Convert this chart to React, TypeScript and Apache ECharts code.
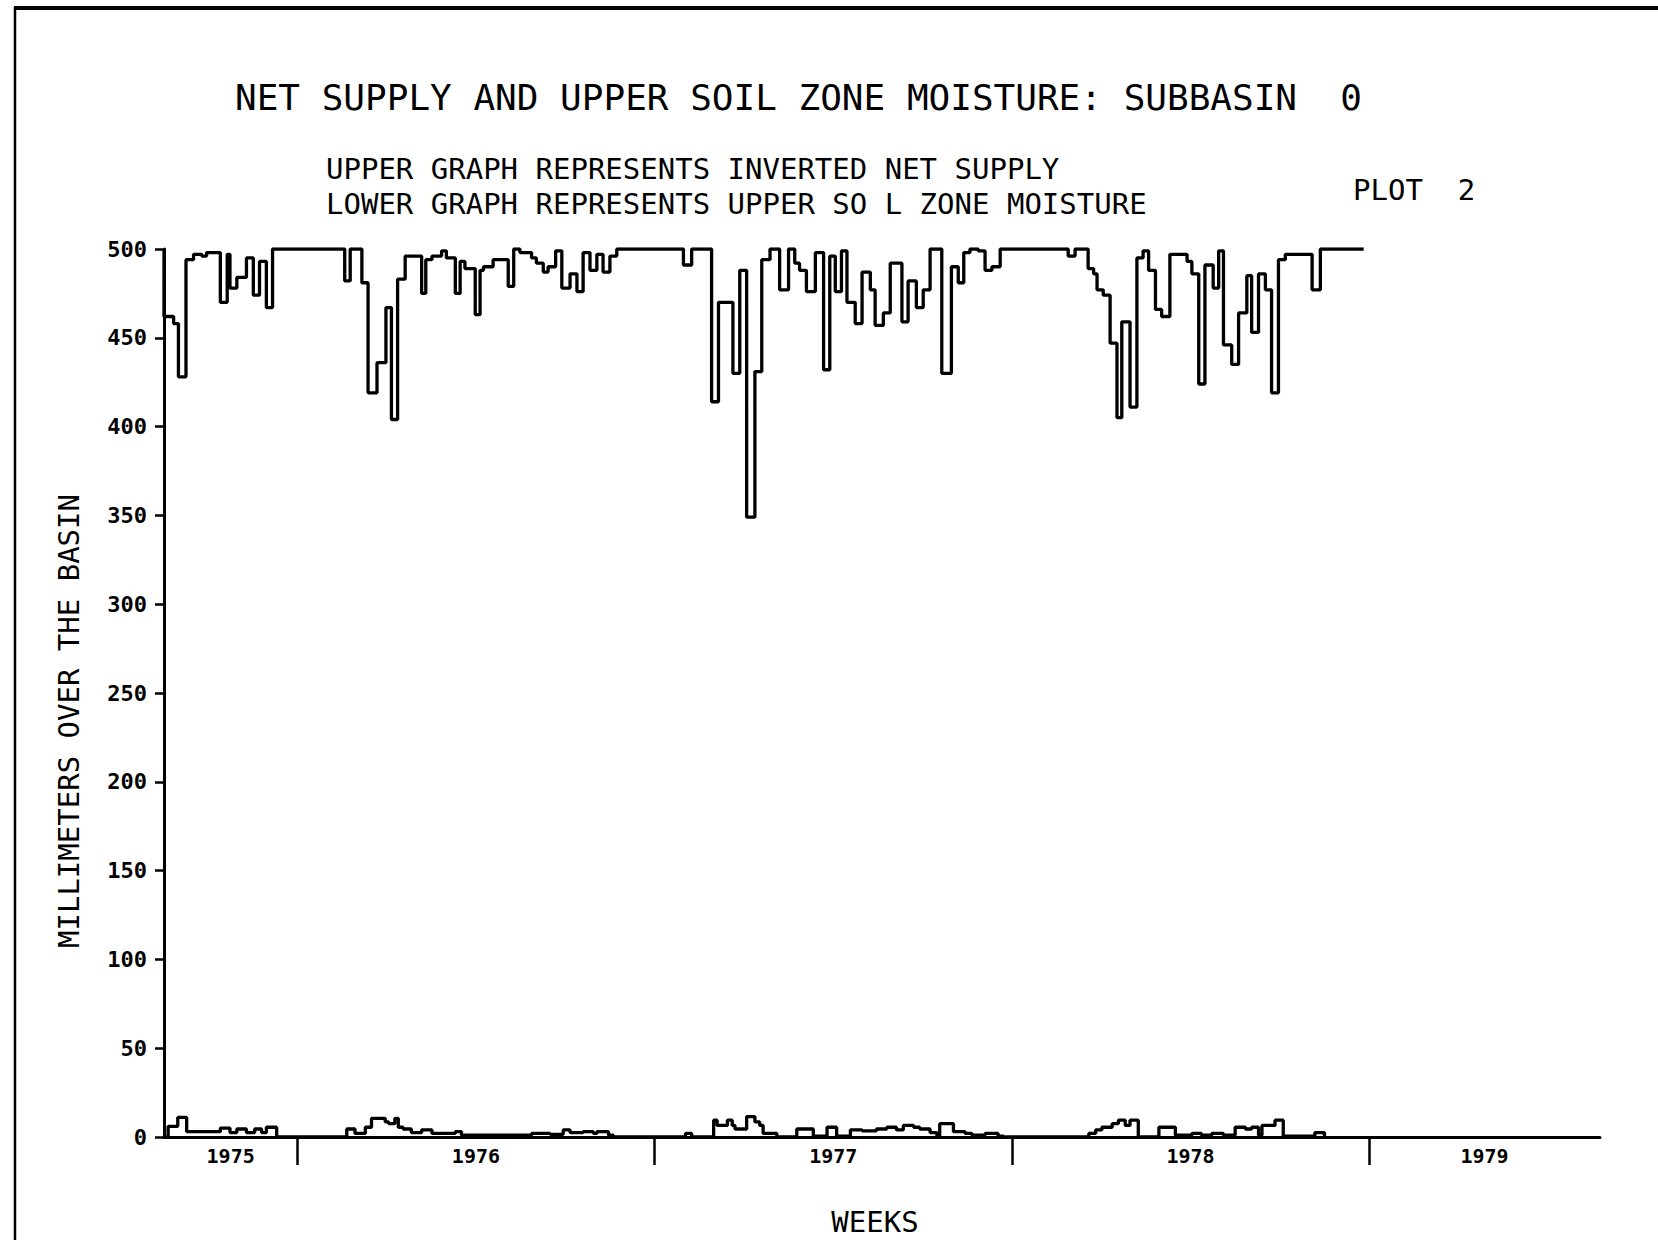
import React, { useEffect, useRef } from "react";
import * as echarts from "echarts";

// ---- axis / tick data ----
const yMin = 0;
const yMax = 500;
const yInterval = 50;
const axisEndWeek = 209; // weeks shown on the x axis
const yearNames = ["1975", "1976", "1977", "1978", "1979"];
const yearStarts = [19.4, 71.4, 123.4, 175.4]; // week index where each new year begins

// ---- upper graph: inverted net supply (step change points) ----
const upperWeek = [
  0, 0, 1.4, 2.1, 3.2, 4.3, 5.5, 6.2, 8.2, 9.2, 9.6, 10.6, 12.0, 13.0, 13.9, 14.9, 15.8,
  26.3, 27.1, 28.8, 29.7, 31.0, 32.3, 33.1, 34.0, 35.1, 37.5, 38.1, 39.0, 40.4, 41.1,
  42.4, 43.1, 43.8, 45.3, 46.0, 46.5, 47.9, 50.1, 50.9, 51.8, 53.5, 54.2, 55.2, 55.9,
  57.0, 57.9, 59.1, 60.1, 61.0, 62.0, 63.0, 63.9, 64.9, 65.9, 75.6, 76.8, 79.7, 80.7,
  82.8, 83.8, 84.8, 86.0, 87.0, 88.2, 89.6, 90.9, 91.8, 92.5, 93.5, 94.8, 96.0, 96.9,
  97.7, 98.6, 99.4, 100.6, 101.6, 102.8, 103.5, 104.7, 105.7, 107.4, 108.3, 109.5,
  110.5, 111.5, 113.2, 114.6, 115.6, 116.4, 117.3, 118.5, 119.5, 120.5, 121.7, 131.6,
  132.6, 134.5, 135.3, 135.8, 136.7, 137.7, 138.7, 139.4, 140.6, 141.6, 142.5, 143.3,
  144.3, 145.2, 146.4, 148.9, 149.6, 150.6, 151.5, 152.7, 153.5, 154.2, 155.4, 156.4,
  157.6, 158.3, 159.3, 160.3, 161.2, 162.2, 163.2, 167.1, 168.3, 174.6,
];
const upperValue = [
  500, 462, 458, 428, 494, 497, 496, 498, 470, 497, 478, 484, 495, 474, 493, 467, 500,
  482, 500, 481, 419, 436, 467, 404, 483, 496, 475, 494, 496, 499, 495,
  475, 493, 489, 463, 488, 490, 494, 479, 500, 498, 495, 492, 487, 490,
  499, 478, 486, 476, 498, 488, 497, 487, 496, 500, 491, 500, 414, 470,
  430, 488, 349, 431, 494, 500, 477, 500, 492, 488, 476, 498, 432, 496,
  476, 499, 470, 458, 487, 477, 457, 464, 492, 459, 482, 467,
  477, 500, 430, 490, 481, 498, 500, 499, 488, 490, 500, 496,
  500, 489, 486, 477, 474, 447, 405, 459, 411, 495, 499, 488,
  466, 462, 497, 493, 486, 424, 491, 478, 499, 446, 435, 464,
  485, 453, 486, 477, 419, 494, 497, 477, 500, 500,
];

// ---- lower graph: upper soil zone moisture (step change points) ----
const lowerWeek = [
  0, 0.6, 2.0, 3.3, 8.2, 9.6, 10.6, 12.0, 13.2, 14.2, 14.9, 16.4, 26.6, 27.8, 29.3, 30.2,
  32.2, 32.7, 33.6, 34.1, 34.8, 36.0, 37.5, 39.0, 42.4, 43.3, 53.5, 56.2, 58.1, 59.1,
  61.0, 62.5, 63.0, 64.7, 65.4, 75.9, 76.8, 80.0, 80.5, 82.0, 82.7, 83.1, 84.8, 86.0,
  86.7, 87.2, 89.2, 92.1, 94.5, 96.5, 97.9, 99.9, 101.6, 103.7, 105.2, 106.6, 107.6,
  109.1, 110.0, 111.5, 112.5, 112.9, 114.9, 116.6, 117.6, 119.5, 121.4, 122.2, 134.6,
  135.6, 136.5, 138.0, 138.9, 139.9, 140.6, 141.8, 144.8, 147.2, 149.6, 151.0, 152.5,
  154.2, 155.9, 157.4, 158.3, 159.3, 159.8, 161.7, 162.9, 167.5, 168.9,
];
const lowerValue = [
  0, 6, 11, 3, 5, 2.5, 4.5, 2.5, 4.5, 2.5, 5.5, 0, 4.5, 2, 5.5, 10.5,
  8.5, 7.5, 10.5, 5.5, 4.5, 2.5, 4, 2, 3, 1, 2, 1.5, 4, 2.5,
  3, 2, 3, 1, 0, 2, 0, 9.5, 6.5, 9.5, 6.5, 4.5, 11.5, 8.5,
  6.5, 2, 0, 4.5, 0.5, 5.5, 0.5, 4, 3.5, 4.5, 5.5, 4, 6.5,
  5.5, 4.5, 2.5, 0.5, 7.5, 3, 2, 1, 2, 0.5, 0, 2,
  4, 5.5, 7.5, 9.5, 6.5, 9.5, 0, 5.5, 1, 2, 1, 2,
  1, 5.5, 4.5, 5.5, 1, 6.5, 9.5, 0.5, 2.5, 0,
];

const MONO = "'DejaVu Sans Mono', 'Liberation Mono', monospace";

export default function App() {
  const ref = useRef<HTMLDivElement>(null);

  useEffect(() => {
    document.body.style.margin = "0";
    if (!ref.current) return;
    const chart = echarts.init(ref.current, undefined, { renderer: "svg" });

    const bounds = [0, ...yearStarts, axisEndWeek];
    const labelAt = yearNames.map((_, i) => (bounds[i] + bounds[i + 1]) / 2);

    const upperData = upperWeek.map((w, i) => [w, upperValue[i]]);
    const lowerData = lowerWeek.map((w, i) => [w, lowerValue[i]]);

    chart.setOption({
      animation: false,
      backgroundColor: "#ffffff",
      grid: { left: 164, right: 58, top: 249, bottom: 103, containLabel: false },
      xAxis: {
        type: "value",
        min: 0,
        max: axisEndWeek,
        splitLine: { show: false },
        axisLine: { show: true, onZero: true, lineStyle: { color: "#000", width: 3 } },
        axisTick: {
          show: true,
          customValues: yearStarts,
          length: 28,
          inside: false,
          lineStyle: { color: "#000", width: 2.5 },
        },
        axisLabel: {
          show: true,
          customValues: labelAt,
          margin: 9,
          color: "#000",
          fontFamily: MONO,
          fontWeight: "bold",
          fontSize: 20,
          formatter: (v: number) => {
            let best = 0;
            labelAt.forEach((p, i) => {
              if (Math.abs(p - v) < Math.abs(labelAt[best] - v)) best = i;
            });
            return yearNames[best];
          },
        },
      },
      yAxis: {
        type: "value",
        min: yMin,
        max: yMax,
        interval: yInterval,
        splitLine: { show: false },
        axisLine: { show: true, lineStyle: { color: "#000", width: 3 } },
        axisTick: { show: true, length: 9, inside: false, lineStyle: { color: "#000", width: 2.5 } },
        axisLabel: {
          color: "#000",
          margin: 17,
          fontFamily: MONO,
          fontWeight: "bold",
          fontSize: 22,
        },
      },
      series: [
        {
          name: "Inverted net supply",
          type: "line",
          step: "end",
          showSymbol: false,
          symbol: "none",
          data: upperData,
          lineStyle: { color: "#000", width: 3.3 },
          z: 3,
        },
        {
          name: "Upper soil zone moisture",
          type: "line",
          step: "end",
          showSymbol: false,
          symbol: "none",
          data: lowerData,
          lineStyle: { color: "#000", width: 3.3 },
          z: 3,
        },
      ],
      graphic: [
        {
          type: "line",
          shape: { x1: 14, y1: 8, x2: 1658, y2: 8 },
          style: { stroke: "#000", lineWidth: 4 },
        },
        {
          type: "line",
          shape: { x1: 15, y1: 7, x2: 15, y2: 1240 },
          style: { stroke: "#000", lineWidth: 2.5 },
        },
        {
          type: "text",
          x: 235,
          y: 97,
          style: {
            text: "NET SUPPLY AND UPPER SOIL ZONE MOISTURE: SUBBASIN  0",
            fontFamily: MONO,
            fontSize: 36,
            fill: "#000",
            align: "left",
            verticalAlign: "middle",
          },
        },
        {
          type: "text",
          x: 326,
          y: 169,
          style: {
            text: "UPPER GRAPH REPRESENTS INVERTED NET SUPPLY",
            fontFamily: MONO,
            fontSize: 29,
            fill: "#000",
            align: "left",
            verticalAlign: "middle",
          },
        },
        {
          type: "text",
          x: 326,
          y: 204,
          style: {
            text: "LOWER GRAPH REPRESENTS UPPER SO L ZONE MOISTURE",
            fontFamily: MONO,
            fontSize: 29,
            fill: "#000",
            align: "left",
            verticalAlign: "middle",
          },
        },
        {
          type: "text",
          x: 1353,
          y: 190,
          style: {
            text: "PLOT  2",
            fontFamily: MONO,
            fontSize: 29,
            fill: "#000",
            align: "left",
            verticalAlign: "middle",
          },
        },
        {
          type: "text",
          x: 69,
          y: 721,
          rotation: Math.PI / 2,
          style: {
            text: "MILLIMETERS OVER THE BASIN",
            fontFamily: MONO,
            fontSize: 29,
            fill: "#000",
            align: "center",
            verticalAlign: "middle",
          },
        },
        {
          type: "text",
          x: 875,
          y: 1222,
          style: {
            text: "WEEKS",
            fontFamily: MONO,
            fontSize: 29,
            fill: "#000",
            align: "center",
            verticalAlign: "middle",
          },
        },
      ],
    });

    return () => chart.dispose();
  }, []);

  return (
    <div
      ref={ref}
      style={{ position: "absolute", left: 0, top: 0, width: 1658, height: 1240, background: "#fff" }}
    />
  );
}
